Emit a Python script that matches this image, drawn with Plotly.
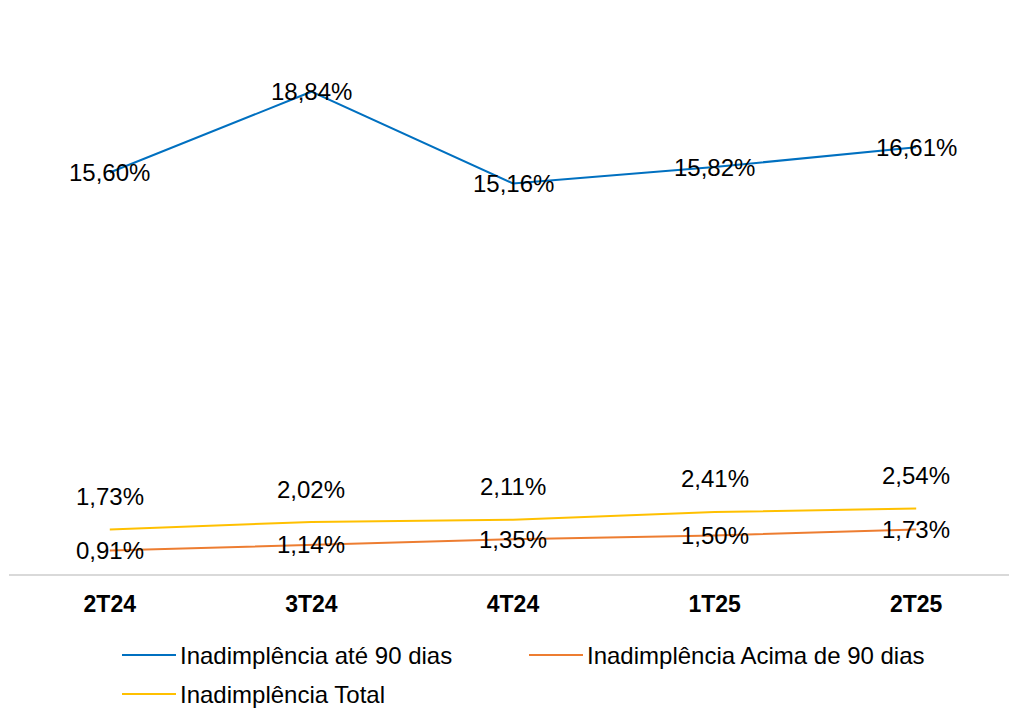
import plotly.graph_objects as go

categories = ["2T24", "3T24", "4T24", "1T25", "2T25"]
ate_90 = [15.60, 18.84, 15.16, 15.82, 16.61]
acima_90 = [0.91, 1.14, 1.35, 1.50, 1.73]
total = [1.73, 2.02, 2.11, 2.41, 2.54]

names = ["Inadimplência até 90 dias", "Inadimplência Acima de 90 dias", "Inadimplência Total"]
colors = ["#0070C0", "#ED7D31", "#FFC000"]

# page body has an 8px margin, so the figure is drawn 8px in from the window edge
OFF = 8
W, H = 1017 - OFF, 709 - OFF
ML, MR, MT = 1, 0, 72 - OFF
PLOT_BOTTOM = 574 - OFF
MB = H - PLOT_BOTTOM
PW, PH = W - ML - MR, H - MT - MB

def fmt(v):
    return f"{v:.2f}".replace(".", ",") + "%"

FONT = "Liberation Sans, Arial, sans-serif"

fig = go.Figure()
fig.add_trace(go.Scatter(x=categories, y=ate_90, mode="lines", name=names[0],
                         line=dict(color=colors[0], width=2), yaxis="y2"))
fig.add_trace(go.Scatter(x=categories, y=total, mode="lines", name=names[2],
                         line=dict(color=colors[2], width=2)))
fig.add_trace(go.Scatter(x=categories, y=acima_90, mode="lines", name=names[1],
                         line=dict(color=colors[1], width=2)))

annotations = []
for c, v in zip(categories, ate_90):
    annotations.append(dict(x=c, y=v, xref="x", yref="y2", text=fmt(v), showarrow=False,
                            font=dict(family=FONT, size=24, color="#000000"),
                            xanchor="center", yanchor="middle"))
for c, v in zip(categories, acima_90):
    annotations.append(dict(x=c, y=v, xref="x", yref="y", text=fmt(v), showarrow=False,
                            font=dict(family=FONT, size=24, color="#000000"),
                            xanchor="center", yanchor="middle"))
for c, v in zip(categories, total):
    annotations.append(dict(x=c, y=v, xref="x", yref="y", text=fmt(v), showarrow=False,
                            font=dict(family=FONT, size=24, color="#000000"),
                            xanchor="center", yanchor="middle", yshift=33))

# manual legend (window pixel positions converted to paper coords)
def px(xp):
    return (xp - OFF - ML) / PW

def py(yp):
    return (PLOT_BOTTOM - (yp - OFF)) / PH

legend_items = [(names[0], colors[0], 122, 655), (names[1], colors[1], 529, 655), (names[2], colors[2], 122, 694)]
shapes = []
for name, col, x0, yy in legend_items:
    shapes.append(dict(type="line", xref="paper", yref="paper", x0=px(x0), x1=px(x0 + 54),
                       y0=py(yy), y1=py(yy), line=dict(color=col, width=2)))
    annotations.append(dict(x=px(x0 + 56), y=py(yy), xref="paper", yref="paper", text=name,
                            showarrow=False, xanchor="left", yanchor="middle",
                            font=dict(family=FONT, size=24, color="#000000")))

fig.update_layout(
    width=W, height=H,
    margin=dict(l=ML, r=MR, t=MT, b=MB, pad=0),
    paper_bgcolor="white", plot_bgcolor="white",
    showlegend=False,
    xaxis=dict(type="category", range=[-0.5, 4.5], showgrid=False, zeroline=False,
               showline=True, linecolor="#D9D9D9", linewidth=2, ticks="",
               tickfont=dict(family=FONT, size=23, color="#000000", weight="bold"),
               ticklabelstandoff=8),
    yaxis=dict(range=[0, 19.5], visible=False, showgrid=False, zeroline=False),
    yaxis2=dict(range=[-0.5, 19.63], overlaying="y", side="right", visible=False,
                showgrid=False, zeroline=False),
    annotations=annotations,
    shapes=shapes,
)

fig.write_html("out.html")
